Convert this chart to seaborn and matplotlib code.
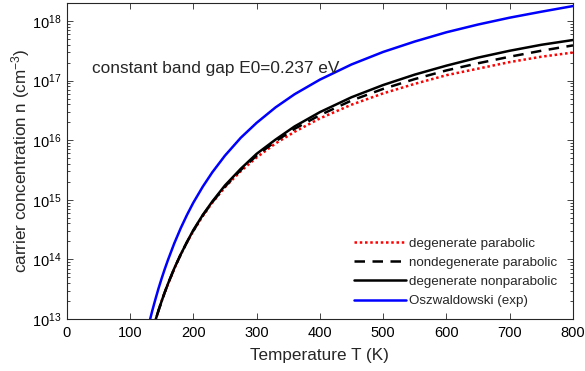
import numpy as np
import pandas as pd
import matplotlib
matplotlib.use("Agg")
import matplotlib.pyplot as plt
import seaborn as sns
from matplotlib.ticker import LogLocator, NullFormatter

# ---- data (T in K, log10 of n in cm^-3) ----
T_blk = [135, 140, 145, 150, 155, 160, 170, 180, 190, 200, 215, 230, 250, 275,
         300, 330, 360, 400, 450, 500, 550, 600, 650, 700, 750, 800]
log_deg_par = [12.79, 12.97, 13.14, 13.30, 13.445, 13.585, 13.845, 14.075, 14.285,
               14.475, 14.727, 14.95, 15.21, 15.48, 15.71, 15.945, 16.14, 16.365,
               16.595, 16.785, 16.945, 17.09, 17.20, 17.31, 17.40, 17.47]
log_nondeg_par = [12.79, 12.97, 13.14, 13.30, 13.45, 13.59, 13.85, 14.08, 14.29,
                  14.48, 14.74, 14.96, 15.22, 15.50, 15.74, 15.98, 16.19, 16.42,
                  16.665, 16.86, 17.025, 17.17, 17.29, 17.40, 17.50, 17.59]
log_deg_nonpar = [12.79, 12.97, 13.14, 13.30, 13.45, 13.59, 13.85, 14.08, 14.29,
                  14.49, 14.745, 14.97, 15.24, 15.52, 15.77, 16.01, 16.23, 16.47,
                  16.72, 16.925, 17.10, 17.25, 17.385, 17.50, 17.60, 17.68]
T_blue = [128, 130, 135, 140, 145, 150, 155, 160, 170, 180, 190, 200, 215, 230,
          250, 275, 300, 330, 360, 400, 450, 500, 550, 600, 650, 700, 750, 800]
log_oszw = [12.83, 12.92, 13.13, 13.325, 13.51, 13.68, 13.84, 13.99, 14.27, 14.52,
            14.745, 14.95, 15.22, 15.46, 15.74, 16.04, 16.29, 16.55, 16.77, 17.015,
            17.27, 17.48, 17.655, 17.81, 17.94, 18.055, 18.155, 18.25]
labels = ["degenerate parabolic", "nondegenerate parabolic",
          "degenerate nonparabolic", "Oszwaldowski (exp)"]
x_ticks = [0, 100, 200, 300, 400, 500, 600, 700, 800]
annotation = "constant band gap E0=0.237 eV"

sns.set_style("ticks")
plt.rcParams["font.family"] = ["Liberation Sans", "DejaVu Sans"]
plt.rcParams["mathtext.fontset"] = "custom"
plt.rcParams["mathtext.rm"] = "Liberation Sans"
plt.rcParams["mathtext.it"] = "Liberation Sans:italic"

fig = plt.figure(figsize=(5.85, 3.71), dpi=100)
W, H = 585.0, 371.0
x0, x1, y0, y1 = 66.7, 573.0, 3.0, 319.0
ax = fig.add_axes([x0 / W, 1 - y1 / H, (x1 - x0) / W, (y1 - y0) / H])

series = [
    (T_blk, log_deg_par, labels[0], "#ff0000", (0, (1, 1.1))),
    (T_blk, log_nondeg_par, labels[1], "black", (0, (4.2, 3.0))),
    (T_blk, log_deg_nonpar, labels[2], "black", "-"),
    (T_blue, log_oszw, labels[3], "#0000ff", "-"),
]
for T, lg, lab, col, ls in series:
    df = pd.DataFrame({"T": T, "n": 10.0 ** np.array(lg)})
    sns.lineplot(data=df, x="T", y="n", ax=ax, color=col, linestyle=ls,
                 linewidth=1.8, label=lab, sort=False)

ax.set_yscale("log")
ax.set_xlim(0, 800)
ax.set_ylim(1e13, 2e18)
ax.set_xticks(x_ticks)
ax.yaxis.set_major_locator(LogLocator(base=10, numticks=20))
ax.yaxis.set_minor_locator(LogLocator(base=10, subs=np.arange(2, 10), numticks=20))
ax.yaxis.set_minor_formatter(NullFormatter())

axcol = "#262626"
for sp in ax.spines.values():
    sp.set_color(axcol)
    sp.set_linewidth(0.8)
    sp.set_visible(True)
ax.tick_params(which="both", direction="in", top=True, right=True, colors=axcol,
               labelcolor="black", labelsize=10.5, width=0.6)
ax.tick_params(which="major", length=4.5)
ax.tick_params(which="minor", length=2.5)
ax.tick_params(axis="x", which="major", pad=5)

ax.set_xlabel("Temperature T (K)", fontsize=12.3, labelpad=6)
ax.set_ylabel("carrier concentration n (cm$^{-3}$)", fontsize=12.3, labelpad=0)

ax.text(40, 1.6e17, annotation, fontsize=12.4, va="center", ha="left")

leg = ax.legend(loc="lower right", frameon=False, fontsize=9.6, handlelength=3.9,
                handletextpad=0.25, labelspacing=0.52, borderaxespad=0.0,
                bbox_to_anchor=(0.98, 0.02))

fig.savefig("out.png", dpi=100)
